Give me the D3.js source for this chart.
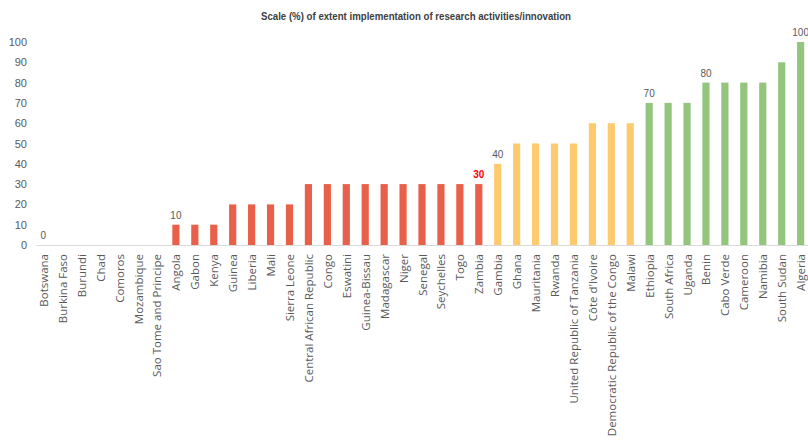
<!DOCTYPE html>
<html>
<head>
<meta charset="utf-8">
<script src="https://cdn.jsdelivr.net/npm/d3@7"></script>
<style>
  html, body { margin: 0; padding: 0; background: #fff; }
  svg { display: block; }
</style>
</head>
<body>
<svg id="chart" width="808" height="441"></svg>
<script>
// Extent of implementation of research activities/innovation, by country (%)
const countries = [
  "Botswana", "Burkina Faso", "Burundi", "Chad", "Comoros", "Mozambique",
  "Sao Tome and Principe", "Angola", "Gabon", "Kenya", "Guinea", "Liberia",
  "Mali", "Sierra Leone", "Central African Republic", "Congo", "Eswatini",
  "Guinea-Bissau", "Madagascar", "Niger", "Senegal", "Seychelles", "Togo",
  "Zambia", "Gambia", "Ghana", "Mauritania", "Rwanda",
  "United Republic of Tanzania", "Côte d'Ivoire",
  "Democratic Republic of the Congo", "Malawi", "Ethiopia", "South Africa",
  "Uganda", "Benin", "Cabo Verde", "Cameroon", "Namibia", "South Sudan",
  "Algeria"
];
const scores = [
  0, 0, 0, 0, 0, 0, 0, 10, 10, 10, 20, 20, 20, 20, 30, 30, 30, 30, 30, 30,
  30, 30, 30, 30, 40, 50, 50, 50, 50, 60, 60, 60, 70, 70, 70, 80, 80, 80,
  80, 90, 100
];
// Countries whose value is printed above the bar
const labelled = ["Botswana", "Angola", "Zambia", "Gambia", "Ethiopia", "Benin", "Algeria"];
const highlighted = ["Zambia"];
const yTicks = [0, 10, 20, 30, 40, 50, 60, 70, 80, 90, 100];
const titleText = "Scale (%) of extent implementation of research activities/innovation";

const svg = d3.select("#chart");
const margin = { left: 36, right: 0, top: 42, bottom: 196 };
const W = 808, H = 441;

const x = d3.scaleBand()
  .domain(countries)
  .range([margin.left, W - margin.right])
  .paddingInner(0.62)
  .paddingOuter(0.2);

const y = d3.scaleLinear()
  .domain([0, 100])
  .range([H - margin.bottom, margin.top]);

function barColor(v) {
  if (v < 40) return "#E8604A";
  if (v < 70) return "#FDCB6E";
  return "#93C67C";
}

// Title
svg.append("text")
  .attr("x", 416)
  .attr("y", 20)
  .attr("text-anchor", "middle")
  .attr("font-family", "'Liberation Sans Narrow', 'Liberation Sans', Arial, sans-serif")
  .attr("font-size", 10.5)
  .attr("font-weight", "bold")
  .attr("fill", "#404040")
  .attr("textLength", 310)
  .attr("lengthAdjust", "spacingAndGlyphs")
  .text(titleText);

// Y axis (labels only)
const yAxis = d3.axisLeft(y).tickValues(yTicks).tickSize(0).tickPadding(0);
const gy = svg.append("g")
  .attr("transform", `translate(${margin.left - 9},0)`)
  .call(yAxis);
gy.select(".domain").remove();
gy.selectAll("text")
  .attr("font-family", "'Liberation Sans Narrow', 'Liberation Sans', Arial, sans-serif")
  .attr("font-size", 11)
  .attr("fill", "#595959");

// Bars
svg.append("g")
  .selectAll("rect")
  .data(countries)
  .join("rect")
  .attr("x", (d) => x(d))
  .attr("width", x.bandwidth())
  .attr("y", (d, i) => y(scores[i]))
  .attr("height", (d, i) => y(0) - y(scores[i]))
  .attr("fill", (d, i) => barColor(scores[i]));

// X axis baseline and category labels
const xAxis = d3.axisBottom(x).tickSize(0).tickPadding(0);
const gx = svg.append("g")
  .attr("transform", `translate(0,${y(0)})`)
  .call(xAxis);
gx.select(".domain").attr("stroke", "#d9d9d9").attr("stroke-width", 1);
gx.selectAll("text")
  .attr("font-family", "'Open Sans', 'Noto Sans', sans-serif")
  .attr("font-size", 11.5)
  .attr("fill", "#595959")
  .attr("text-anchor", "end")
  .attr("dy", null)
  .attr("dominant-baseline", "central")
  .attr("transform", "translate(0,9) rotate(-90)");

// Value labels
svg.append("g")
  .selectAll("text")
  .data(countries.filter((c) => labelled.includes(c)))
  .join("text")
  .attr("x", (d) => x(d) + x.bandwidth() / 2)
  .attr("y", (d) => y(scores[countries.indexOf(d)]) - 6)
  .attr("text-anchor", "middle")
  .attr("font-family", "'Liberation Sans Narrow', 'Liberation Sans', Arial, sans-serif")
  .attr("font-size", 10)
  .attr("font-weight", (d) => highlighted.includes(d) ? "bold" : "normal")
  .attr("fill", (d) => highlighted.includes(d) ? "#FF0000" : "#595959")
  .text((d) => scores[countries.indexOf(d)]);
</script>
</body>
</html>
